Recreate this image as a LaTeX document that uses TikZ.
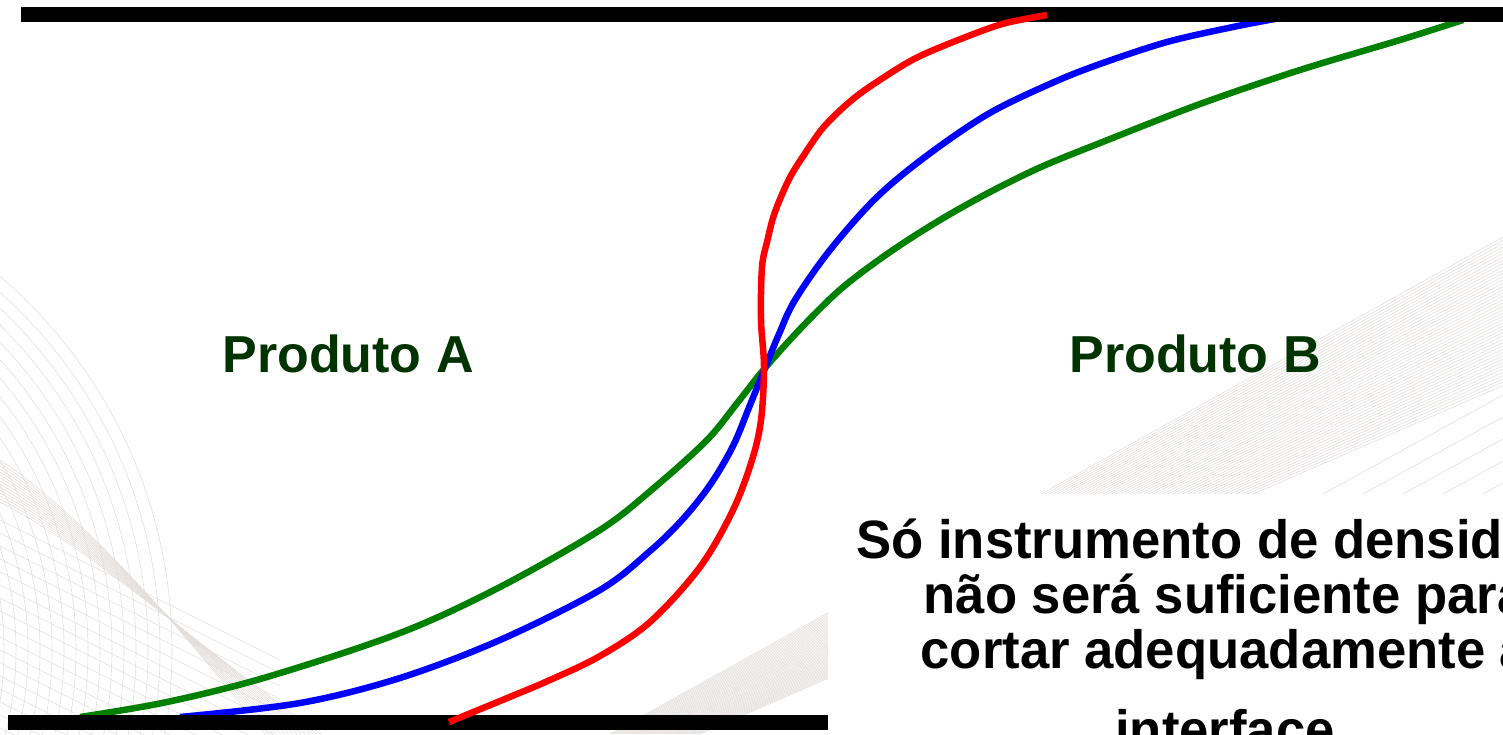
\documentclass[tikz,border=0pt]{standalone}
\usepackage{xcolor}
\usepackage{fontspec}
\setmainfont{Liberation Sans}
\newfontfamily\notefont[FakeStretch=0.975]{Liberation Sans}
\usepackage{tikz}

\definecolor{prodgreen}{RGB}{0,51,0}
\definecolor{curvegreen}{RGB}{0,128,0}
\definecolor{swirlgray}{RGB}{226,222,220}

\begin{document}
\begin{tikzpicture}[x=1pt,y=-1pt,
  bgline/.style={swirlgray,line width=0.6pt},
  profile/.style={line width=6.5pt,line join=round},
  wall/.style={line width=15pt},
  prodlabel/.style={font=\fontsize{52}{60}\selectfont\bfseries,text=prodgreen,inner sep=0pt},
  note/.style={font=\notefont\fontsize{54}{55}\selectfont\bfseries,align=center,inner sep=0pt}]
\useasboundingbox (0,0) rectangle (1503,734);
\clip (0,0) rectangle (1503,734);

% background swirl, left
\foreach \r in {300,312,...,494}
  \draw[bgline] (-320,650) circle[radius=\r pt];
\foreach \i in {0,...,16}
  \draw[bgline] (0,520+\i*13) -- (280,660+\i*13);
\foreach \i in {0,...,14}
  \draw[bgline] (0,460+\i*3) .. controls (90,520+\i*2) and (190,640) .. (265+\i*4,734);

% background band, right
\foreach \i in {0,...,45}
  \draw[bgline] (610+\i*2,734) -- (1503,237+\i*3.3);
\foreach \i in {0,...,4}
  \draw[bgline] (1503,395+\i*22) -- ++(-400,220);

\fill[white] (828,494) rectangle (1503,734);

% profiles
\draw[profile,curvegreen] plot[smooth,tension=0.55] coordinates {
  (80,717) (167,702) (267,677) (400,633) (500,587) (600,530) (655,487)
  (707,440) (738,402) (765,368) (802,327) (842,288) (890,252) (940,220)
  (990,192) (1041,167) (1100,143) (1200,104) (1300,70) (1400,40) (1463,20)};
\draw[profile,blue] plot[smooth,tension=0.55] coordinates {
  (180,717) (300,703) (400,678) (500,640) (600,590) (650,551) (682,520)
  (710,485) (733,446) (750,405) (765,368) (779,334) (795,300) (830,250)
  (876,198) (925,157) (988,114) (1052,83) (1100,64) (1167,42) (1233,27)
  (1280,18)};

\draw[wall] (21,14.5) -- (1503,14.5);
\draw[wall] (8,722.5) -- (828,722.5);

\draw[profile,red] plot[smooth,tension=0.55] coordinates {
  (449,722) (500,701) (550,680) (600,656) (650,622) (700,567) (733,510)
  (752,460) (761,420) (764,367) (761,320) (762,267) (767.5,240)
  (774.6,213) (788.6,180) (802.6,157) (823.7,127) (851.8,100) (879.8,80)
  (918,57) (971,35) (1006,23) (1047,15)};

\node[prodlabel,anchor=base] (prodA) at (348,372) {Produto A};
\node[prodlabel,anchor=base] (prodB) at (1195,372) {Produto B};

\node[note,anchor=base] (note) at (1225,748)
  {Só instrumento de densidade\\não será suficiente para\\cortar adequadamente a\\[25pt]interface};
\end{tikzpicture}
\end{document}
